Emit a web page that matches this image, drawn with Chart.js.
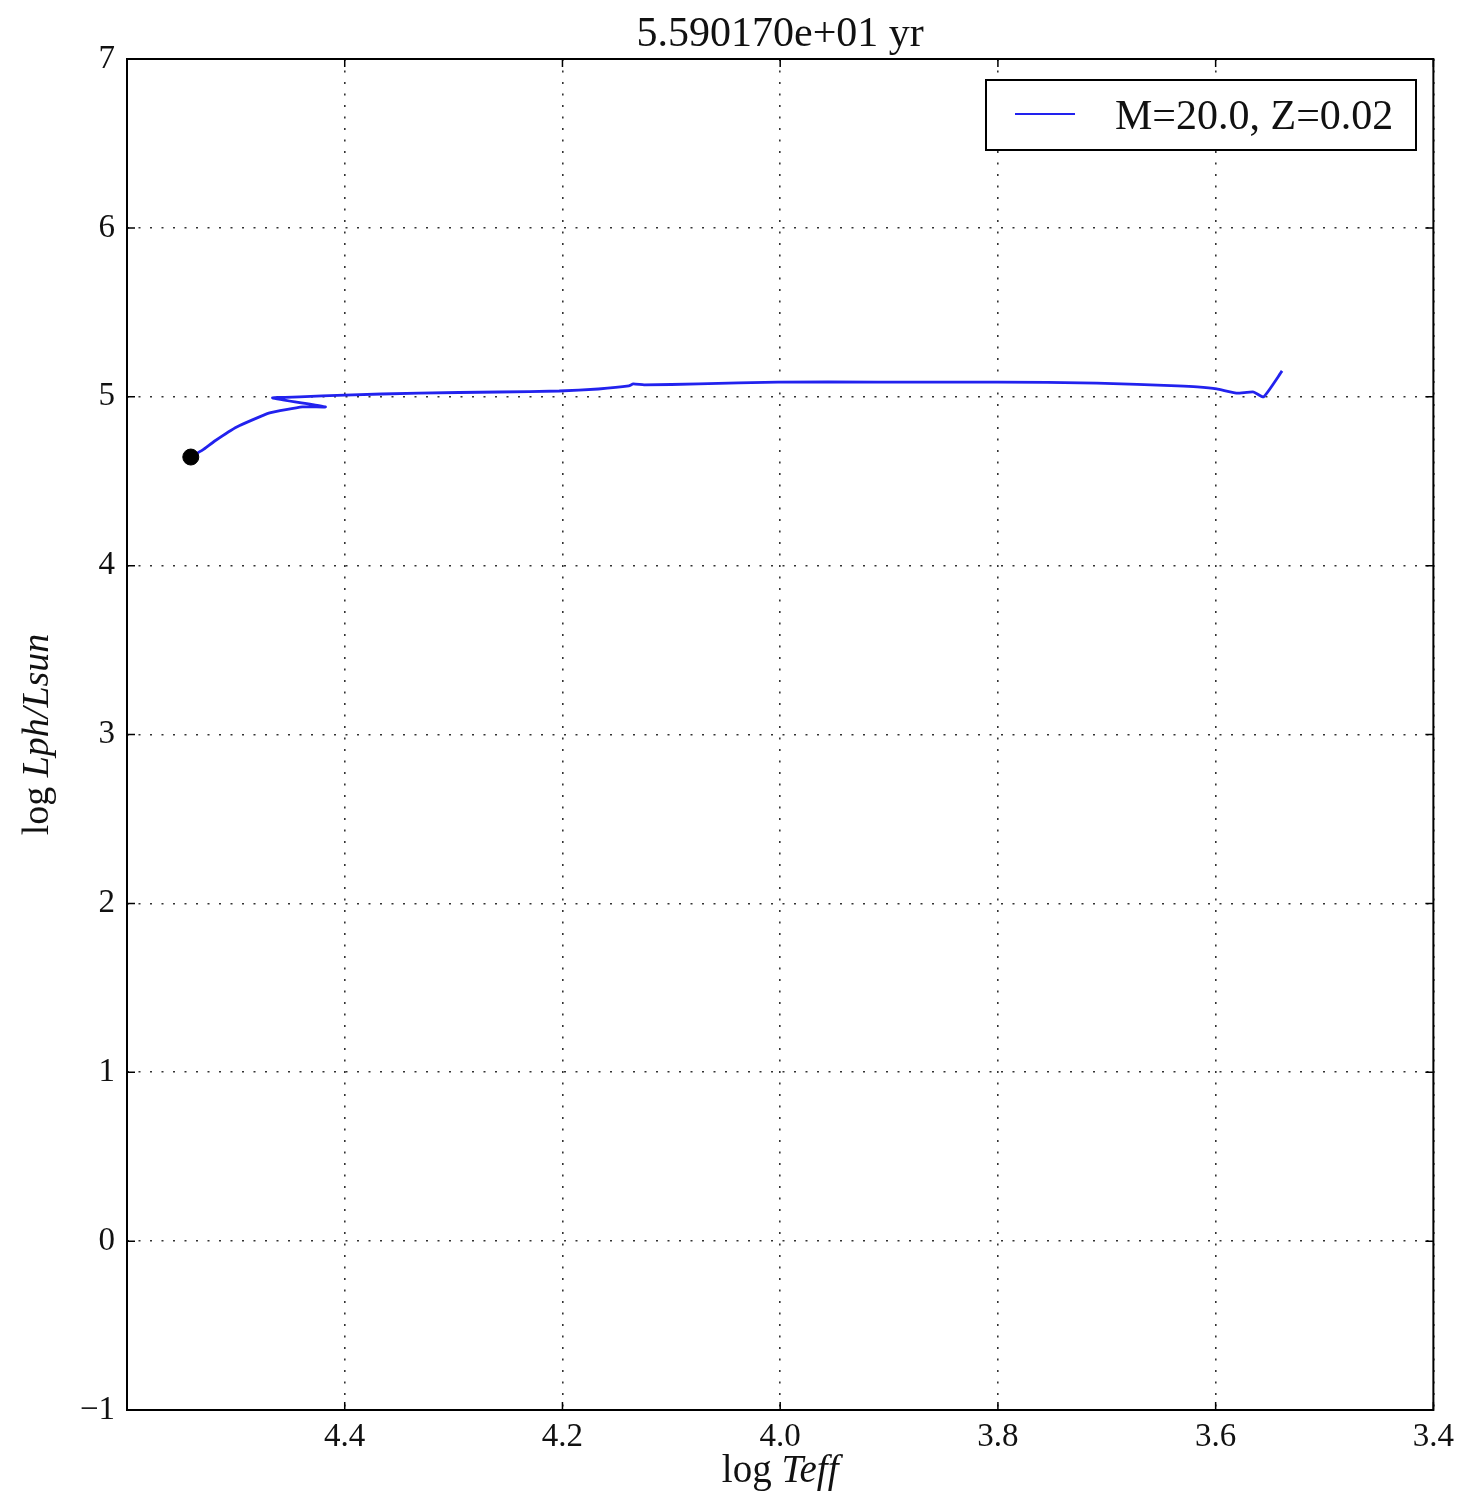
<!DOCTYPE html>
<html>
<head>
<meta charset="utf-8">
<script src="https://cdn.jsdelivr.net/npm/chart.js@4/dist/chart.umd.min.js"></script>
<style>
  html, body { margin: 0; padding: 0; background: #fff; }
  #wrap { width: 1462px; height: 1496px; }
</style>
</head>
<body>
<div id="wrap"><canvas id="hr"></canvas></div>
<script>
// track data
var logTeff = [4.5414, 4.5304, 4.5194, 4.4992, 4.469, 4.4388, 4.4177, 4.4663, 4.4415, 4.40, 4.332, 4.258,
               4.203, 4.167, 4.139, 4.135, 4.125, 4.075, 4.002, 3.910, 3.800, 3.709, 3.635, 3.617,
               3.599, 3.581, 3.565, 3.556, 3.539];
var logL    = [4.643, 4.685, 4.738, 4.821, 4.904, 4.940, 4.940, 4.993, 4.999, 5.010, 5.022, 5.028,
               5.034, 5.046, 5.064, 5.076, 5.070, 5.076, 5.087, 5.087, 5.087, 5.081, 5.064, 5.058,
               5.046, 5.022, 5.028, 4.999, 5.153];
var trackLabel = "M=20.0, Z=0.02";
var titleText = "5.590170e+01 yr";
var xTicks = [4.6, 4.4, 4.2, 4.0, 3.8, 3.6, 3.4];
var yTicks = [-1, 0, 1, 2, 3, 4, 5, 6, 7];

var serif = "'Liberation Serif', 'DejaVu Serif', serif";

var points = [];
for (var i = 0; i < logTeff.length; i++) {
  points.push({ x: logTeff[i], y: logL[i] });
}

// draws "log " upright then the rest in italic, centred on 0
function mathLabel(ctx, rest, size, y) {
  ctx.font = size + "px " + serif;
  var w1 = ctx.measureText("log ").width;
  ctx.font = "italic " + size + "px " + serif;
  var w2 = ctx.measureText(rest).width;
  var x0 = -(w1 + w2) / 2;
  ctx.textAlign = "left";
  ctx.font = size + "px " + serif;
  ctx.fillText("log ", x0, y);
  ctx.font = "italic " + size + "px " + serif;
  ctx.fillText(rest, x0 + w1, y);
}

// title, axis labels, frame, inward ticks and legend box
var decor = {
  id: "decor",
  afterDraw: function (chart) {
    var ctx = chart.ctx;
    var a = chart.chartArea;
    var xs = chart.scales.x, ys = chart.scales.y;
    ctx.save();

    // inward tick marks
    ctx.strokeStyle = "#000";
    ctx.lineWidth = 1.5;
    xTicks.forEach(function (v) {
      var px = xs.getPixelForValue(v);
      ctx.beginPath();
      ctx.moveTo(px, a.bottom); ctx.lineTo(px, a.bottom - 8);
      ctx.moveTo(px, a.top); ctx.lineTo(px, a.top + 8);
      ctx.stroke();
    });
    yTicks.forEach(function (v) {
      var py = ys.getPixelForValue(v);
      ctx.beginPath();
      ctx.moveTo(a.left, py); ctx.lineTo(a.left + 8, py);
      ctx.moveTo(a.right, py); ctx.lineTo(a.right - 8, py);
      ctx.stroke();
    });

    // frame
    ctx.lineWidth = 2;
    ctx.strokeRect(a.left, a.top, a.right - a.left, a.bottom - a.top);

    // title
    ctx.fillStyle = "#111";
    ctx.font = "42px " + serif;
    ctx.textAlign = "center";
    ctx.textBaseline = "alphabetic";
    ctx.fillText(titleText, (a.left + a.right) / 2, 46);

    // x axis label
    ctx.save();
    ctx.translate((a.left + a.right) / 2, 1482);
    mathLabel(ctx, "Teff", 39, 0);
    ctx.restore();

    // y axis label rotated
    ctx.save();
    ctx.translate(48, (a.top + a.bottom) / 2);
    ctx.rotate(-Math.PI / 2);
    mathLabel(ctx, "Lph/Lsun", 38, 0);
    ctx.restore();

    // legend
    var lx = 986, ly = 80, lw = 430, lh = 70;
    ctx.fillStyle = "#fff";
    ctx.fillRect(lx, ly, lw, lh);
    ctx.lineWidth = 2;
    ctx.strokeStyle = "#000";
    ctx.strokeRect(lx, ly, lw, lh);
    ctx.strokeStyle = chart.data.datasets[0].borderColor;
    ctx.lineWidth = 2;
    ctx.beginPath();
    ctx.moveTo(1015, 114); ctx.lineTo(1075, 114);
    ctx.stroke();
    ctx.fillStyle = "#111";
    ctx.font = "42px " + serif;
    ctx.textAlign = "left";
    ctx.fillText(chart.data.datasets[0].label, 1115, 129);

    ctx.restore();
  }
};

new Chart(document.getElementById("hr"), {
  type: "scatter",
  data: {
    datasets: [
      {
        label: trackLabel,
        data: points,
        showLine: true,
        borderColor: "#2222ee",
        borderWidth: 2.8,
        pointRadius: 0,
        tension: 0.15,
        order: 2
      },
      {
        label: "now",
        data: [points[0]],
        pointRadius: 8,
        backgroundColor: "#000",
        borderColor: "#000",
        order: 1
      }
    ]
  },
  options: {
    responsive: true,
    maintainAspectRatio: false,
    animation: false,
    layout: { padding: { top: 59, right: 24, left: 0, bottom: 0 } },
    plugins: {
      legend: { display: false },
      title: { display: false },
      tooltip: { enabled: false }
    },
    scales: {
      x: {
        type: "linear",
        reverse: true,
        min: 3.4,
        max: 4.6,
        afterBuildTicks: function (scale) {
          scale.ticks = xTicks.map(function (v) { return { value: v }; });
        },
        afterFit: function (scale) { scale.height = 86; },
        border: { display: false, dash: [2, 9.5] },
        grid: { color: "#333", lineWidth: 1.6, drawTicks: false },
        ticks: {
          padding: 8,
          color: "#111",
          font: { family: serif, size: 33 },
          callback: function (v) {
            if (Math.abs(v - 4.6) < 1e-6) return "";
            return Number(v).toFixed(1);
          }
        }
      },
      y: {
        type: "linear",
        min: -1,
        max: 7,
        afterBuildTicks: function (scale) {
          scale.ticks = yTicks.map(function (v) { return { value: v }; });
        },
        afterFit: function (scale) { scale.width = 127; },
        border: { display: false, dash: [2, 9.5] },
        grid: { color: "#333", lineWidth: 1.6, drawTicks: false },
        ticks: {
          padding: 12,
          color: "#111",
          font: { family: serif, size: 33 },
          callback: function (v) {
            return String(v).replace("-", "\u2212");
          }
        }
      }
    }
  },
  plugins: [decor]
});
</script>
</body>
</html>
